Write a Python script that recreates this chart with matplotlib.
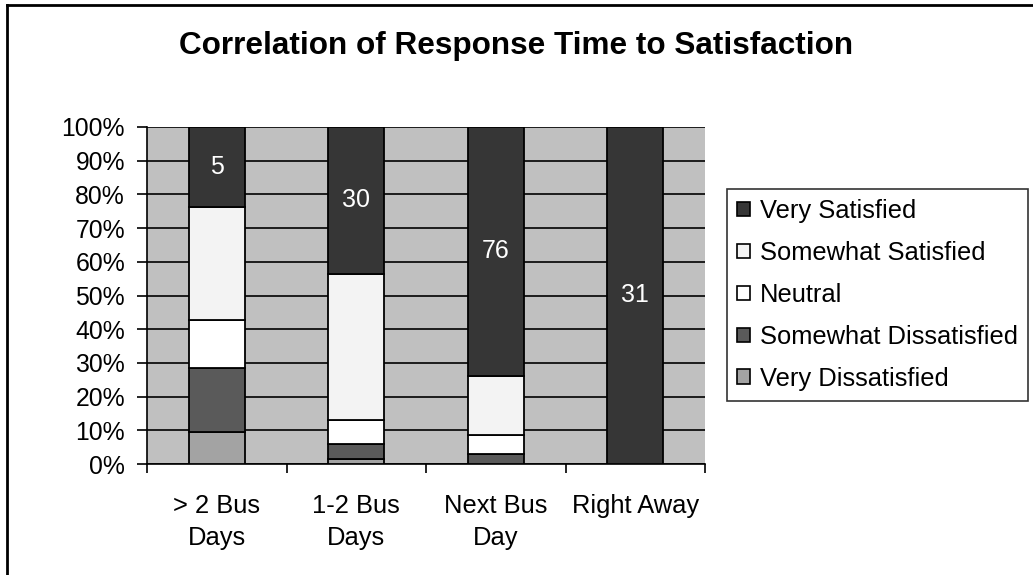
import matplotlib
matplotlib.use("Agg")
import matplotlib.pyplot as plt
from matplotlib.patches import Patch
from matplotlib.lines import Line2D
import numpy as np

plt.rcParams['font.family'] = ['Liberation Sans', 'DejaVu Sans']

categories = ["> 2 Bus\nDays", "1-2 Bus\nDays", "Next Bus\nDay", "Right Away"]
series_names = ["Very Dissatisfied", "Somewhat Dissatisfied", "Neutral",
                "Somewhat Satisfied", "Very Satisfied"]
very_dissatisfied = [2, 1, 0, 0]
somewhat_dissatisfied = [4, 3, 3, 0]
neutral = [3, 5, 6, 0]
somewhat_satisfied = [7, 30, 18, 0]
very_satisfied = [5, 30, 76, 31]
colors = ["#a3a3a3", "#5a5a5a", "#ffffff", "#f3f3f3", "#363636"]
yticks = [0, 10, 20, 30, 40, 50, 60, 70, 80, 90, 100]
ytick_labels = [f"{v}%" for v in yticks]

counts = np.array([very_dissatisfied, somewhat_dissatisfied, neutral,
                   somewhat_satisfied, very_satisfied], dtype=float)
totals = counts.sum(axis=0)
pct = counts / totals * 100

fig = plt.figure(figsize=(10.33, 5.75), dpi=100)
ax = fig.add_axes([147/1033, 1-464/575, (705-147)/1033, (464-127)/575])
ax.set_facecolor("#c0c0c0")

x = np.arange(len(categories))
bottom = np.zeros(len(categories))
for i, name in enumerate(series_names):
    ax.bar(x, pct[i], 0.4, bottom=bottom, color=colors[i], edgecolor="black",
           linewidth=1.3, zorder=3, label=name)
    bottom += pct[i]

# labels on the Very Satisfied segment
vs_bottom = pct[:4].sum(axis=0)
for xi, b, h, n in zip(x, vs_bottom, pct[4], very_satisfied):
    ax.text(xi, b + h/2, str(n), color="white", ha="center", va="center",
            fontsize=18, zorder=5)

ax.set_xlim(-0.5, len(categories) - 0.5)
ax.set_ylim(0, 100)
ax.set_yticks(yticks)
ax.set_yticklabels(ytick_labels, fontsize=17.8)
ax.yaxis.grid(True, color="black", linewidth=1.2, zorder=1)
ax.set_axisbelow(True)
ax.tick_params(axis="y", length=7.2, width=1.2, direction="out", pad=8.6)

ax.set_xticks(np.arange(-0.5, len(categories), 1.0))
ax.set_xticklabels([])
ax.tick_params(axis="x", which="major", length=6.5, width=1.2)
ax.set_xticks(x, minor=True)
ax.set_xticklabels(categories, minor=True, fontsize=18.4, linespacing=1.42)
ax.tick_params(axis="x", which="minor", length=0, pad=21.5)

for s in ["top", "right"]:
    ax.spines[s].set_visible(False)
for s in ["left", "bottom"]:
    ax.spines[s].set_linewidth(1.2)

fig.text((180+852)/2/1033, 1-46/575, "Correlation of Response Time to Satisfaction",
         ha="center", va="center", fontsize=22.7, fontweight="bold")

handles = [Patch(facecolor=colors[i], edgecolor="black", linewidth=1.2)
           for i in range(4, -1, -1)]
labels = [series_names[i] for i in range(4, -1, -1)]
leg = fig.legend(handles, labels, loc="upper left",
                 bbox_to_anchor=(727/1033, 1-189/575), fontsize=18.4,
                 frameon=True, fancybox=False, edgecolor="black",
                 handlelength=0.5, handleheight=0.5, handletextpad=0.4,
                 labelspacing=0.7, borderpad=0.4, borderaxespad=0)
leg.get_frame().set_linewidth(1.2)

# outer frame (left and top edges)
fig.add_artist(Line2D([7/1033, 7/1033], [0, 1-5/575], transform=fig.transFigure,
                      color="black", linewidth=2))
fig.add_artist(Line2D([7/1033, 1], [1-5/575, 1-5/575], transform=fig.transFigure,
                      color="black", linewidth=2))

fig.savefig("out.png", dpi=100)
